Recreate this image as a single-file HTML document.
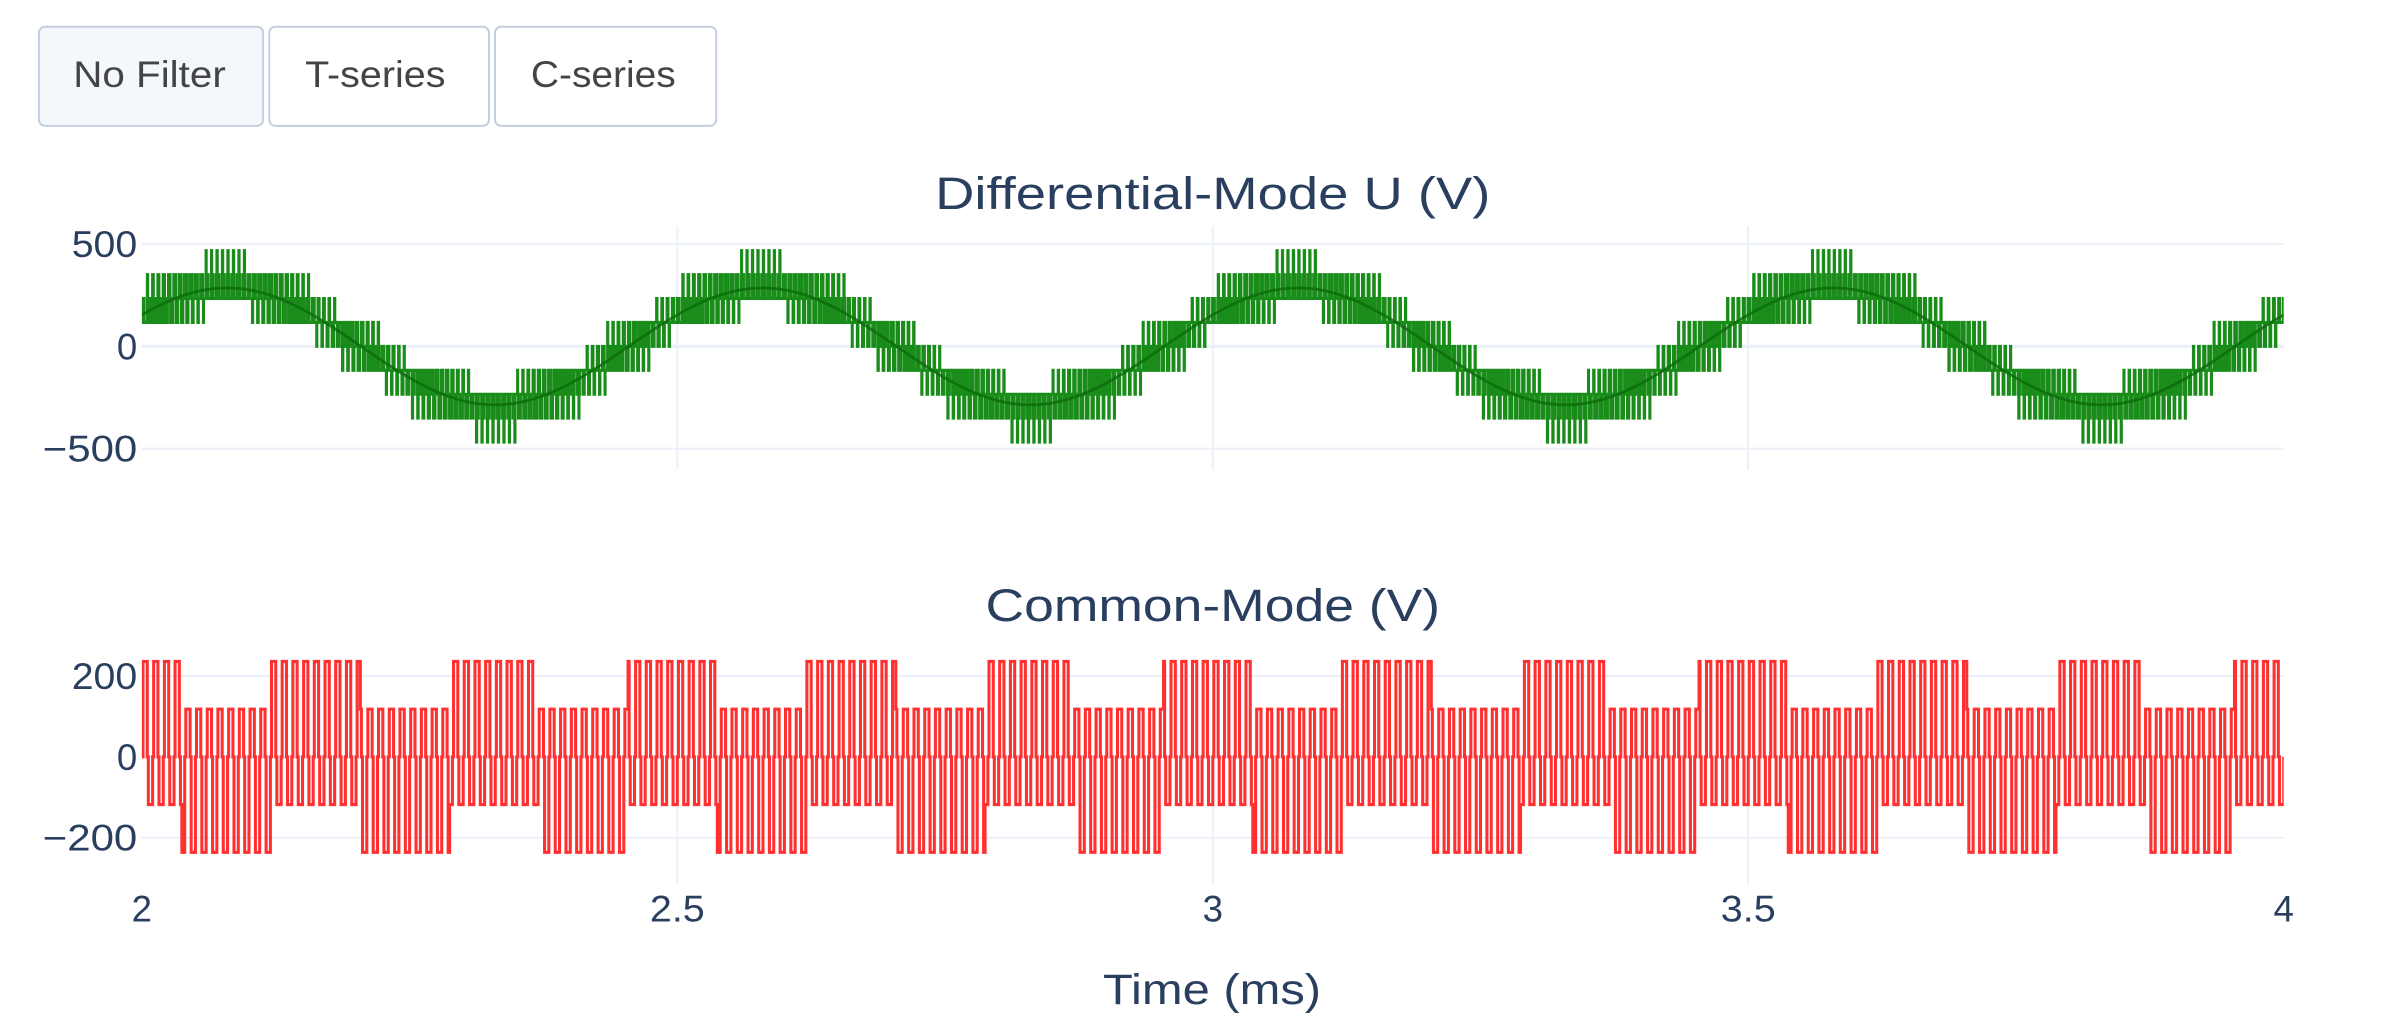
<!DOCTYPE html>
<html><head><meta charset="utf-8"><style>
html,body{margin:0;padding:0;background:#fff;}
svg{display:block;}
text{font-family:"Liberation Sans",sans-serif;}
</style></head><body>
<svg id="s" width="2392" height="1030" viewBox="0 0 1568 675" preserveAspectRatio="none" xmlns="http://www.w3.org/2000/svg">
<defs>
<clipPath id="c1"><rect x="93" y="140" width="1404" height="175"/></clipPath>
<clipPath id="c2"><rect x="93" y="425" width="1404" height="160"/></clipPath>
</defs>
<rect x="0" y="0" width="1568" height="675" fill="#fff"/>
<rect x="25.5" y="17.5" width="147" height="65" rx="4" fill="#f4f8fd" stroke="#c4cee0" stroke-width="1.3"/>
<rect x="176.5" y="17.5" width="144" height="65" rx="4" fill="#fff" stroke="#c4cee0" stroke-width="1.3"/>
<rect x="324.5" y="17.5" width="145" height="65" rx="4" fill="#fff" stroke="#c4cee0" stroke-width="1.3"/>
<text x="48" y="57" font-size="24" fill="#444" textLength="100" lengthAdjust="spacingAndGlyphs">No Filter</text>
<text x="200" y="57" font-size="24" fill="#444" textLength="92" lengthAdjust="spacingAndGlyphs">T-series</text>
<text x="348" y="57" font-size="24" fill="#444" textLength="95" lengthAdjust="spacingAndGlyphs">C-series</text>
<text x="613" y="137" font-size="30" fill="#2a3f5f" textLength="364" lengthAdjust="spacingAndGlyphs">Differential-Mode U (V)</text>
<text x="646" y="407" font-size="30" fill="#2a3f5f" textLength="298" lengthAdjust="spacingAndGlyphs">Common-Mode (V)</text>
<g stroke="#ebf0f8" stroke-width="1.3">
<line x1="93" y1="160" x2="1497" y2="160"/>
<line x1="93" y1="294" x2="1497" y2="294"/>
<line x1="444" y1="148" x2="444" y2="308"/>
<line x1="795" y1="148" x2="795" y2="308"/>
<line x1="1146" y1="148" x2="1146" y2="308"/>
<line x1="93" y1="443" x2="1497" y2="443"/>
<line x1="93" y1="549" x2="1497" y2="549"/>
<line x1="444" y1="432" x2="444" y2="580"/>
<line x1="795" y1="432" x2="795" y2="580"/>
<line x1="1146" y1="432" x2="1146" y2="580"/>
</g>
<g stroke="#ebf0f8" stroke-width="2.2">
<line x1="93" y1="227" x2="1497" y2="227"/>
<line x1="93" y1="496" x2="1497" y2="496"/>
</g>
<g font-size="24" fill="#2a3f5f" text-anchor="end" lengthAdjust="spacingAndGlyphs">
<text x="90" y="168.5" textLength="43" lengthAdjust="spacingAndGlyphs">500</text>
<text x="90" y="235.5">0</text>
<text x="90" y="302.5" textLength="62" lengthAdjust="spacingAndGlyphs">−500</text>
<text x="90" y="451.5" textLength="43" lengthAdjust="spacingAndGlyphs">200</text>
<text x="90" y="504.5">0</text>
<text x="90" y="557.5" textLength="62" lengthAdjust="spacingAndGlyphs">−200</text>
</g>
<g font-size="24" fill="#2a3f5f" text-anchor="middle">
<text x="93" y="604">2</text>
<text x="444" y="604" textLength="36" lengthAdjust="spacingAndGlyphs">2.5</text>
<text x="795" y="604">3</text>
<text x="1146" y="604" textLength="36" lengthAdjust="spacingAndGlyphs">3.5</text>
<text x="1497" y="604">4</text>
</g>
<text x="723" y="658" font-size="28" fill="#2a3f5f" textLength="143" lengthAdjust="spacingAndGlyphs">Time (ms)</text>
<g clip-path="url(#c1)"><path id="dm" fill="none" stroke="#008000" stroke-width="2" stroke-opacity="0.9" d=""/>
<path id="dms" fill="none" stroke="#0b6a0b" stroke-width="1.8" stroke-opacity="0.8" d=""/></g>
<g clip-path="url(#c2)"><path id="cm" fill="none" stroke="#ff1a1a" stroke-width="2" stroke-opacity="0.9" d=""/></g>
</svg>
<script>
(function(){
var L=117,A=165,w=2*Math.PI/0.5,th0=0.57-Math.PI/6,fc=200;
function X(t){return 93+(t-2)*702;}
function ph(t,k){var r=A*Math.sin(w*(t-2)+th0-k*2*Math.PI/3);var q=r/L,n=Math.floor(q),f=q-n;
 var p=((t-2)*fc+k/3)%1; var c=p<0.5?2*p:2-2*p; return (f>c?n+1:n)*L;}
function cmv(t){var T=0.01;var p=((t-2)/T)%1;
 var g=((t-1.954)%0.16667)<0.08333;
 var hi=g?236:118, lo=g?-118:-236;
 if(p<0.1)return 0; if(p<0.5)return hi; if(p<0.6)return 0; return lo;}
var N=80000,dt=2/N,dm=[],cm=[],pd=null,pc=null;
for(var i=0;i<=N;i++){var t=2+i*dt;var a=ph(t,0),b=ph(t,1);
 var d=a-b,e=cmv(t);var x=X(t).toFixed(2);
 var yd=(227-d*67/500).toFixed(2),yc=(496-e*53/200).toFixed(2);
 if(pd===null){dm.push('M'+x+' '+yd);}else if(d!==pd){dm.push('L'+x+' '+(227-pd*67/500).toFixed(2)+'L'+x+' '+yd);}
 if(pc===null){cm.push('M'+x+' '+yc);}else if(e!==pc){cm.push('L'+x+' '+(496-pc*53/200).toFixed(2)+'L'+x+' '+yc);}
 pd=d;pc=e;}
dm.push('L1497 '+(227-pd*67/500).toFixed(2));cm.push('L1497 '+(496-pc*53/200).toFixed(2));
document.getElementById('dm').setAttribute('d',dm.join(''));
document.getElementById('cm').setAttribute('d',cm.join(''));
var s=[];for(var j=0;j<=800;j++){var t=2+j*2/800;var v=Math.sqrt(3)*A*Math.sin(w*(t-2)+0.57);
 s.push((j?'L':'M')+X(t).toFixed(2)+' '+(227-v*67/500).toFixed(2));}
document.getElementById('dms').setAttribute('d',s.join(''));
})();
</script>
</body></html>
